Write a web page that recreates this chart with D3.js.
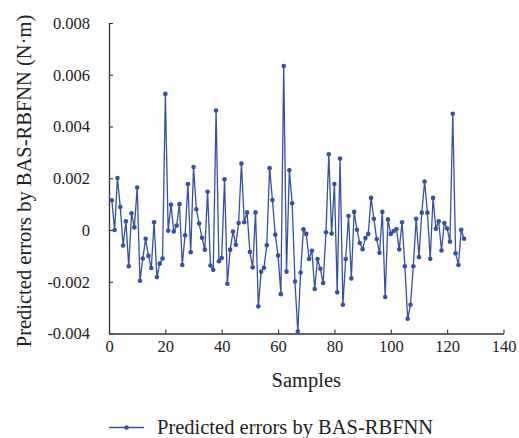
<!DOCTYPE html>
<html>
<head>
<meta charset="utf-8">
<script src="https://cdn.jsdelivr.net/npm/d3@7"></script>
<style>
  body { margin: 0; background: #fff; }
  svg text { font-family: "Liberation Serif", "DejaVu Serif", serif; fill: #222; }
</style>
</head>
<body>
<div id="chart"></div>
<script>
  // predicted errors, samples 1..126
  var errors = [
    0.00115, 0.0000, 0.00201, 0.00089, -0.0006, 0.00034, -0.0014, 0.00065, 0.0001, 0.00164,
    -0.00196, -0.0011, -0.00034, -0.001, -0.00147, 0.0003, -0.00182, -0.0013, -0.0011, 0.00526,
    -0.00003, 0.00098, -0.00006, 0.00017, 0.001, -0.00135, -0.0002, 0.00178, -0.00086, 0.00243,
    0.0008, 0.00025, -0.0003, -0.00076, 0.00148, -0.00137, -0.00154, 0.00462, -0.00121, -0.00108,
    0.00196, -0.00208, -0.00076, -0.00006, -0.00057, 0.00027, 0.00257, 0.0003, 0.00068, -0.00085,
    -0.00145, 0.00068, -0.00295, -0.00161, -0.00146, -0.00059, 0.00239, 0.00116, -0.00018, -0.00099,
    -0.00248, 0.00634, -0.00161, 0.00231, 0.00103, -0.00199, -0.00392, -0.00164, 0.00003, -0.00015,
    -0.00112, -0.0008, -0.00228, -0.00112, -0.0015, -0.00205, -0.00009, 0.00293, -0.00014, 0.00178,
    -0.00241, 0.00276, -0.00289, -0.00112, 0.00054, -0.00187, 0.0007, 0.00001, -0.0005, -0.00074,
    -0.00031, -0.00015, 0.00124, 0.00043, -0.00035, -0.00088, 0.0007, -0.00259, 0.00041, -0.00015,
    -0.00004, 0.00004, -0.00075, 0.0003, -0.0014, -0.00343, -0.00289, -0.0014, 0.00043, -0.00105,
    0.00067, 0.00187, 0.00067, -0.00111, 0.00124, 0.00005, 0.00034, -0.00079, 0.00027, 0.00006,
    -0.00045, 0.00449, -0.0009, -0.00135, 0.00001, -0.00034
  ];
  var samples = errors.map((d, i) => i + 1);
  var xTicks = [0, 20, 40, 60, 80, 100, 120, 140];
  var yTicks = [-0.004, -0.002, 0, 0.002, 0.004, 0.006, 0.008];
  var yTickLabels = ["-0.004", "-0.002", "0", "0.002", "0.004", "0.006", "0.008"];
  var seriesName = "Predicted errors by BAS-RBFNN";

  var W = 519, H = 438;
  var plotL = 109, plotR = 503.5, plotT = 23, plotB = 333.5;
  var color = "#3650a3";

  var svg = d3.select("#chart").append("svg")
      .attr("width", W).attr("height", H);

  var x = d3.scaleLinear().domain([0, 140]).range([plotL, plotR]);
  var y = d3.scaleLinear().domain([-0.004, 0.008]).range([plotB, plotT]);

  var xAxis = svg.append("g")
      .attr("transform", "translate(0," + plotB + ")")
      .call(d3.axisBottom(x).tickValues(xTicks).tickSizeInner(-4).tickSizeOuter(0)
            .tickFormat(d3.format("d")));
  var yAxis = svg.append("g")
      .attr("transform", "translate(" + plotL + ",0)")
      .call(d3.axisLeft(y).tickValues(yTicks).tickSizeInner(-4).tickSizeOuter(0)
            .tickFormat((d, i) => yTickLabels[i]));

  [xAxis, yAxis].forEach(function (g) {
      g.select(".domain").attr("stroke", "#333").attr("stroke-width", 1.3);
      g.selectAll(".tick line").attr("stroke", "#333").attr("stroke-width", 1.1);
      g.selectAll(".tick text").style("font-size", "16.5px").attr("fill", "#222");
  });
  xAxis.selectAll(".tick text").attr("y", 6).attr("dy", "0.75em");
  yAxis.selectAll(".tick text").attr("x", -19);

  var line = d3.line().x((d, i) => x(samples[i])).y((d) => y(d));
  svg.append("path").datum(errors)
      .attr("d", line).attr("fill", "none")
      .attr("stroke", color).attr("stroke-width", 1.3);

  svg.append("g").selectAll("circle").data(errors)
      .enter().append("circle")
      .attr("cx", (d, i) => x(samples[i])).attr("cy", (d) => y(d))
      .attr("r", 2.3).attr("fill", color);

  // axis titles
  svg.append("text")
      .attr("x", (plotL + plotR) / 2).attr("y", 387)
      .attr("text-anchor", "middle").style("font-size", "20.5px")
      .text("Samples");
  svg.append("text")
      .attr("transform", "translate(31,181) rotate(-90)")
      .attr("text-anchor", "middle").style("font-size", "20.5px")
      .text("Predicted errors by BAS-RBFNN (N\u00b7m)");

  // legend
  var lg = svg.append("g").attr("transform", "translate(109,427.5)");
  lg.append("line").attr("x1", 0).attr("x2", 35).attr("y1", 0).attr("y2", 0)
      .attr("stroke", color).attr("stroke-width", 1.3);
  lg.append("circle").attr("cx", 17.5).attr("cy", 0).attr("r", 2.3).attr("fill", color);
  lg.append("text").attr("x", 48).attr("y", 6)
      .style("font-size", "20.5px").text(seriesName);
</script>
</body>
</html>
